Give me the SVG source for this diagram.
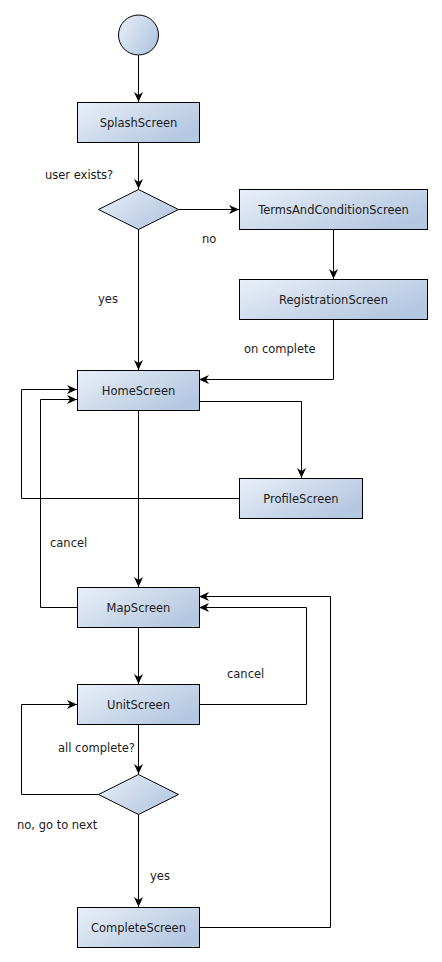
<svg xmlns="http://www.w3.org/2000/svg" width="442" height="962" viewBox="0 0 442 962">
<style>
.n{stroke:#000;stroke-width:1;fill:url(#g)}
.t{font-family:"DejaVu Sans",sans-serif;font-size:11.5px;fill:#1a1a1a}
.c{text-anchor:middle}
.e{fill:none;stroke:#000;stroke-width:1;marker-end:url(#a)}
</style>
<defs>
<linearGradient id="g" x1="0" y1="0" x2="1" y2="0.6">
<stop offset="0" stop-color="#e9eff8"/>
<stop offset="1" stop-color="#b5c8e2"/>
</linearGradient>
<marker id="a" markerUnits="userSpaceOnUse" markerWidth="12" markerHeight="10" refX="10" refY="4.5" orient="auto">
<path d="M0,0 L10,4.5 L0,9 L3,4.5 z" fill="#000"/>
</marker>
</defs>
<rect width="442" height="962" fill="#fff"/>
<g id="connectors">
<path class="e" d="M138.5,55 V102"/>
<path class="e" d="M138.5,142 V189"/>
<path class="e" d="M178,209.5 H239"/>
<path class="e" d="M138.5,229 V370"/>
<path class="e" d="M333.5,229 V279"/>
<path class="e" d="M333.5,319 V379.5 H199"/>
<path class="e" d="M199,401.5 H301.5 V478"/>
<path class="e" d="M239,498.5 H21.5 V389.5 H77"/>
<path class="e" d="M138.5,410 V587"/>
<path class="e" d="M77,607.5 H40.5 V399.5 H77"/>
<path class="e" d="M138.5,627 V684"/>
<path class="e" d="M199,704.5 H306.5 V607.5 H199"/>
<path class="e" d="M138.5,724 V774"/>
<path class="e" d="M98,794.5 H21.5 V704.5 H77"/>
<path class="e" d="M138.5,814 V907"/>
<path class="e" d="M199,927.5 H330.5 V596.5 H199"/>
</g>
<g id="labels">
<text class="t" x="45" y="179">user exists?</text>
<text class="t" x="202" y="243">no</text>
<text class="t" x="98" y="303">yes</text>
<text class="t" x="244" y="353">on complete</text>
<text class="t" x="50" y="547">cancel</text>
<text class="t" x="227" y="678">cancel</text>
<text class="t" x="58" y="752">all complete?</text>
<text class="t" x="17" y="829">no, go to next</text>
<text class="t" x="150" y="880">yes</text>
</g>
<g id="start"><circle class="n" cx="138.5" cy="35" r="20"/></g>
<g id="splash"><rect class="n" x="77.5" y="102.5" width="122" height="40"/><text class="t c" x="138.5" y="126.5">SplashScreen</text></g>
<g id="decision1"><path class="n" d="M138.5,189.5 L178.5,209.5 L138.5,229.5 L98.5,209.5 Z"/></g>
<g id="terms"><rect class="n" x="239.5" y="189.5" width="188" height="40"/><text class="t c" x="333.5" y="213.5">TermsAndConditionScreen</text></g>
<g id="registration"><rect class="n" x="239.5" y="279.5" width="188" height="40"/><text class="t c" x="333.5" y="303.5">RegistrationScreen</text></g>
<g id="home"><rect class="n" x="77.5" y="370.5" width="122" height="40"/><text class="t c" x="138.5" y="394.5">HomeScreen</text></g>
<g id="profile"><rect class="n" x="239.5" y="478.5" width="123" height="40"/><text class="t c" x="301" y="502.5">ProfileScreen</text></g>
<g id="map"><rect class="n" x="77.5" y="587.5" width="122" height="40"/><text class="t c" x="138.5" y="611.5">MapScreen</text></g>
<g id="unit"><rect class="n" x="77.5" y="684.5" width="122" height="40"/><text class="t c" x="138.5" y="708.5">UnitScreen</text></g>
<g id="decision2"><path class="n" d="M138.5,774.5 L178.5,794.5 L138.5,814.5 L98.5,794.5 Z"/></g>
<g id="complete"><rect class="n" x="77.5" y="907.5" width="122" height="40"/><text class="t c" x="138.5" y="931.5">CompleteScreen</text></g>
</svg>
